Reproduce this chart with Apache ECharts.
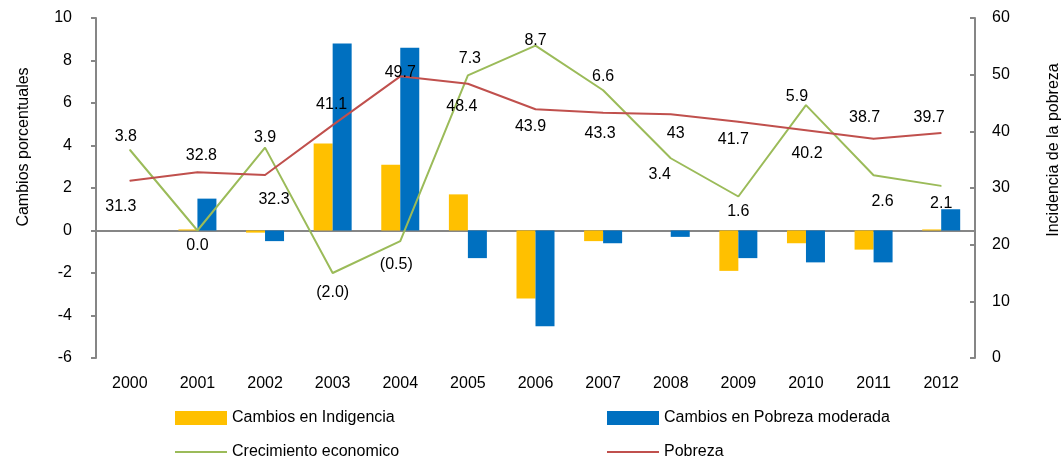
<!DOCTYPE html>
<html>
<head>
<meta charset="utf-8">
<script src="https://cdn.jsdelivr.net/npm/echarts@6/dist/echarts.min.js"></script>
<style>
  html, body { margin: 0; padding: 0; background: #fff; }
  #chart { width: 1064px; height: 461px; }
</style>
</head>
<body>
<div id="chart"></div>
<script>
// datos
var years = ['2000', '2001', '2002', '2003', '2004', '2005', '2006', '2007', '2008', '2009', '2010', '2011', '2012'];
var indigencia = [0, 0.05, -0.1, 4.1, 3.1, 1.7, -3.2, -0.5, 0, -1.9, -0.6, -0.9, 0.05];
var pobrezaModerada = [0, 1.5, -0.5, 8.8, 8.6, -1.3, -4.5, -0.6, -0.3, -1.3, -1.5, -1.5, 1.0];
var crecimiento = [3.8, 0.0, 3.9, -2.0, -0.5, 7.3, 8.7, 6.6, 3.4, 1.6, 5.9, 2.6, 2.1];
var pobreza = [31.3, 32.8, 32.3, 41.1, 49.7, 48.4, 43.9, 43.3, 43, 41.7, 40.2, 38.7, 39.7];
var leftTicks = [-6, 10, 2];
var rightTicks = [0, 60, 10];

// posicion de etiquetas [pos, dx, dy]
var greenLabelPos = [
  ['top', -4, 0], ['bottom', 0, 2], ['top', 0, 3], ['bottom', 0, 6], ['bottom', -4, 10],
  ['top', 2, -3], ['top', 0, 8], ['top', 0, 0], ['bottom', -11, 3], ['bottom', 0, 2],
  ['top', -9, 5], ['bottom', 9, 13], ['bottom', 0, 4]
];
var redLabelPos = [
  ['bottom', -9, 12], ['top', 4, -3], ['bottom', 9, 11], ['top', -1, -7], ['top', 0, 10],
  ['bottom', -6, 9], ['bottom', -5, 4], ['bottom', -3, 7], ['bottom', 5, 6], ['bottom', -5, 4],
  ['bottom', 1, 10], ['top', -9, -8], ['top', -12, -2]
];

var font = '"Liberation Sans", Arial, sans-serif';
var legendText = { fontSize: 16, color: '#000', fontFamily: font };

function withLabels(values, pos) {
  return values.map(function (v, i) {
    return {
      value: v,
      label: {
        show: true,
        position: pos[i][0],
        offset: [pos[i][1], pos[i][2]]
      }
    };
  });
}

var chart = echarts.init(document.getElementById('chart'));
var option = {
  animation: false,
  textStyle: { fontFamily: font },
  grid: { left: 96, right: 89, top: 18, bottom: 103, outerBoundsMode: 'none', containLabel: false },
  legend: [
    { left: 170, top: 405, itemWidth: 52, itemHeight: 14, textStyle: legendText,
      data: [{ name: 'Cambios en Indigencia', icon: 'rect' }] },
    { left: 602, top: 405, itemWidth: 52, itemHeight: 14, textStyle: legendText,
      data: [{ name: 'Cambios en Pobreza moderada', icon: 'rect' }] },
    { left: 170, top: 439, itemWidth: 52, itemHeight: 2, textStyle: legendText,
      data: [{ name: 'Crecimiento economico', icon: 'rect' }] },
    { left: 602, top: 439, itemWidth: 52, itemHeight: 2, textStyle: legendText,
      data: [{ name: 'Pobreza', icon: 'rect' }] }
  ],
  xAxis: [
    {
      type: 'category',
      data: years,
      boundaryGap: true,
      axisLine: { show: false, onZero: false },
      axisTick: { show: false },
      axisLabel: { fontSize: 16, color: '#000', margin: 18, fontFamily: font }
    },
    {
      type: 'category',
      data: years,
      position: 'bottom',
      axisLine: { show: true, onZero: true, onZeroAxisIndex: 0, lineStyle: { color: '#868686', width: 2 } },
      axisTick: { show: false },
      axisLabel: { show: false }
    }
  ],
  yAxis: [
    {
      type: 'value',
      min: leftTicks[0],
      max: leftTicks[1],
      interval: leftTicks[2],
      name: 'Cambios porcentuales',
      nameLocation: 'middle',
      nameGap: 64,
      nameTextStyle: { fontSize: 16, color: '#000', fontFamily: font, padding: [0, 0, 0, 82] },
      axisLine: { show: true, lineStyle: { color: '#868686', width: 2 } },
      axisTick: { show: true, length: 5, lineStyle: { color: '#868686', width: 2 } },
      axisLabel: { fontSize: 16, color: '#000', margin: 24, fontFamily: font },
      splitLine: { show: false }
    },
    {
      type: 'value',
      min: rightTicks[0],
      max: rightTicks[1],
      interval: rightTicks[2],
      position: 'right',
      name: 'Incidencia de la pobreza',
      nameLocation: 'middle',
      nameGap: 71,
      nameTextStyle: { fontSize: 16, color: '#000', fontFamily: font, padding: [0, 0, 0, 76] },
      axisLine: { show: true, lineStyle: { color: '#868686', width: 2 } },
      axisTick: { show: true, inside: true, length: 5, lineStyle: { color: '#868686', width: 2 } },
      axisLabel: { fontSize: 16, color: '#000', margin: 17, fontFamily: font },
      splitLine: { show: false }
    }
  ],
  series: [
    {
      name: 'Cambios en Indigencia',
      type: 'bar',
      data: indigencia,
      barWidth: 19,
      barGap: '0%',
      itemStyle: { color: '#FFC000' }
    },
    {
      name: 'Cambios en Pobreza moderada',
      type: 'bar',
      data: pobrezaModerada,
      barWidth: 19,
      barGap: '0%',
      itemStyle: { color: '#0070C0' }
    },
    {
      name: 'Crecimiento economico',
      type: 'line',
      data: withLabels(crecimiento, greenLabelPos),
      symbol: 'circle',
      symbolSize: 1,
      showSymbol: true,
      lineStyle: { color: '#9BBB59', width: 2 },
      itemStyle: { color: '#9BBB59' },
      label: {
        show: true,
        fontSize: 16,
        color: '#000',
        fontFamily: font,
        formatter: function (p) {
          var v = p.value;
          return v < 0 ? '(' + Math.abs(v).toFixed(1) + ')' : v.toFixed(1);
        }
      },
      z: 3
    },
    {
      name: 'Pobreza',
      type: 'line',
      yAxisIndex: 1,
      data: withLabels(pobreza, redLabelPos),
      symbol: 'circle',
      symbolSize: 1,
      showSymbol: true,
      lineStyle: { color: '#C0504D', width: 2 },
      itemStyle: { color: '#C0504D' },
      label: {
        show: true,
        fontSize: 16,
        color: '#000',
        fontFamily: font
      },
      z: 3
    }
  ]
};
chart.setOption(option);
</script>
</body>
</html>
